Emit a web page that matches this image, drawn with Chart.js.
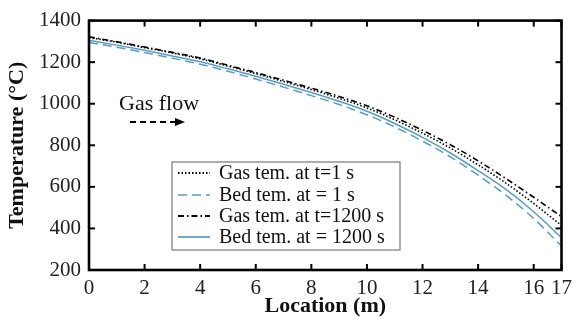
<!DOCTYPE html>
<html><head><meta charset="utf-8">
<script src="https://cdn.jsdelivr.net/npm/chart.js@4.4.1/dist/chart.umd.min.js"></script>
<style>html,body{margin:0;padding:0;background:#fff;}#wrap{width:578px;height:322px;}</style>
</head><body><div id="wrap"><canvas id="c" width="578" height="322"></canvas></div>
<script>
const locations = [0,1,2,3,4,5,6,7,8,9,10,11,12,13,14,15,16,17];
const gasT1     = [1318,1296,1270,1244,1216,1181,1145,1107,1068,1026,980,923,858,787,706,618,520,414];
const bedT1     = [1295,1272,1246,1219,1190,1156,1119,1080,1039,996,947,888,820,744,656,560,448,315];
const gasT1200  = [1322,1298,1273,1247,1220,1185,1150,1113,1075,1035,990,935,872,803,725,640,550,457];
const bedT1200  = [1305,1282,1257,1230,1202,1168,1132,1094,1054,1012,964,905,838,763,678,588,480,355];
const xTicks = [0,2,4,6,8,10,12,14,16,17];
const yTicks = [200,400,600,800,1000,1200,1400];
const seriesLabels = ['Gas tem. at t=1 s','Bed tem. at = 1 s','Gas tem. at t=1200 s','Bed tem. at = 1200 s'];
const xTitle = 'Location (m)';
const yTitle = 'Temperature (\u00B0C)';
const noteText = 'Gas flow';

const BLUE = '#5a9cc0';
const SERIF = '"Liberation Serif", "DejaVu Serif", serif';
const styles = [
  {color:'#000', dash:[1.5,2], width:1.6},
  {color:BLUE, dash:[9,5], width:1.5},
  {color:'#000', dash:[6,3,1.5,3], width:1.6},
  {color:BLUE, dash:[], width:1.5}
];
const seriesData = [gasT1, bedT1, gasT1200, bedT1200];
const pts = arr => arr.map((v,i)=>({x:locations[i], y:v}));
const datasets = seriesData.map((arr,i)=>({
  label: seriesLabels[i], data: pts(arr), borderColor: styles[i].color,
  borderDash: styles[i].dash, borderWidth: styles[i].width, pointRadius: 0,
  fill:false, cubicInterpolationMode:'monotone', order: [2,4,1,3][i]
}));

const decor = {
  id:'decor',
  afterDraw(chart){
    const {ctx, chartArea:{left,right,top,bottom}, scales:{x,y}} = chart;
    ctx.save();
    ctx.strokeStyle='#000'; ctx.lineWidth=2; ctx.setLineDash([]);
    const ln=(a,b,c,d)=>{ctx.beginPath();ctx.moveTo(a,b);ctx.lineTo(c,d);ctx.stroke();};
    xTicks.forEach(v=>{const p=x.getPixelForValue(v); ln(p,bottom,p,bottom-6); ln(p,top,p,top+6);});
    yTicks.forEach(v=>{const p=y.getPixelForValue(v); ln(left,p,left+6,p); ln(right,p,right-6,p);});
    ctx.lineWidth=2.6; ctx.strokeRect(left,top,right-left,bottom-top);
    // legend box
    const bx=172, by=162, bw=228, bh=88;
    ctx.fillStyle='#fff'; ctx.fillRect(bx,by,bw,bh);
    ctx.strokeStyle='#777'; ctx.lineWidth=1.2; ctx.strokeRect(bx,by,bw,bh);
    const rows=[173,195,216,237];
    ctx.font='20px '+SERIF; ctx.textBaseline='middle'; ctx.fillStyle='#111';
    seriesLabels.forEach((t,i)=>{
      ctx.strokeStyle=styles[i].color; ctx.lineWidth=styles[i].width+0.2; ctx.setLineDash(styles[i].dash);
      ln(178,rows[i],210,rows[i]);
      ctx.setLineDash([]);
      ctx.fillText(t,219,rows[i]+1);
    });
    // gas flow note
    ctx.font='22px '+SERIF; ctx.textBaseline='alphabetic'; ctx.fillStyle='#111';
    ctx.fillText(noteText,119,110);
    ctx.strokeStyle='#000'; ctx.lineWidth=2.2; ctx.setLineDash([6,4]);
    ln(130,122,176,122);
    ctx.setLineDash([]); ctx.fillStyle='#000';
    ctx.beginPath(); ctx.moveTo(185,122); ctx.lineTo(175,118); ctx.lineTo(175,126); ctx.closePath(); ctx.fill();
    ctx.restore();
  }
};

new Chart(document.getElementById('c'), {
  type:'line',
  data:{datasets},
  plugins:[decor],
  options:{
    responsive:false, animation:false, devicePixelRatio:1,
    layout:{padding:{top:20,right:12,left:0,bottom:0}},
    plugins:{legend:{display:false}, tooltip:{enabled:false}},
    scales:{
      x:{type:'linear', min:0, max:17,
        afterBuildTicks:s=>{s.ticks=xTicks.map(v=>({value:v}));},
        afterFit:s=>{s.height=52;},
        grid:{display:false, drawTicks:false}, border:{display:false},
        ticks:{font:{family:SERIF,size:21}, color:'#222', padding:6, maxRotation:0, autoSkip:false, callback:v=>String(v)},
        title:{display:true, text:xTitle, font:{family:SERIF,size:22,weight:'bold'}, color:'#111', padding:{top:0,bottom:2}}
      },
      y:{type:'linear', min:200, max:1400,
        afterBuildTicks:s=>{s.ticks=yTicks.map(v=>({value:v}));},
        afterFit:s=>{s.width=89;},
        grid:{display:false, drawTicks:false}, border:{display:false},
        ticks:{font:{family:SERIF,size:21}, color:'#222', padding:8, callback:v=>String(v)},
        title:{display:true, text:yTitle, font:{family:SERIF,size:22,weight:'bold'}, color:'#111', padding:{top:4,bottom:0}}
      }
    }
  }
});
</script></body></html>
